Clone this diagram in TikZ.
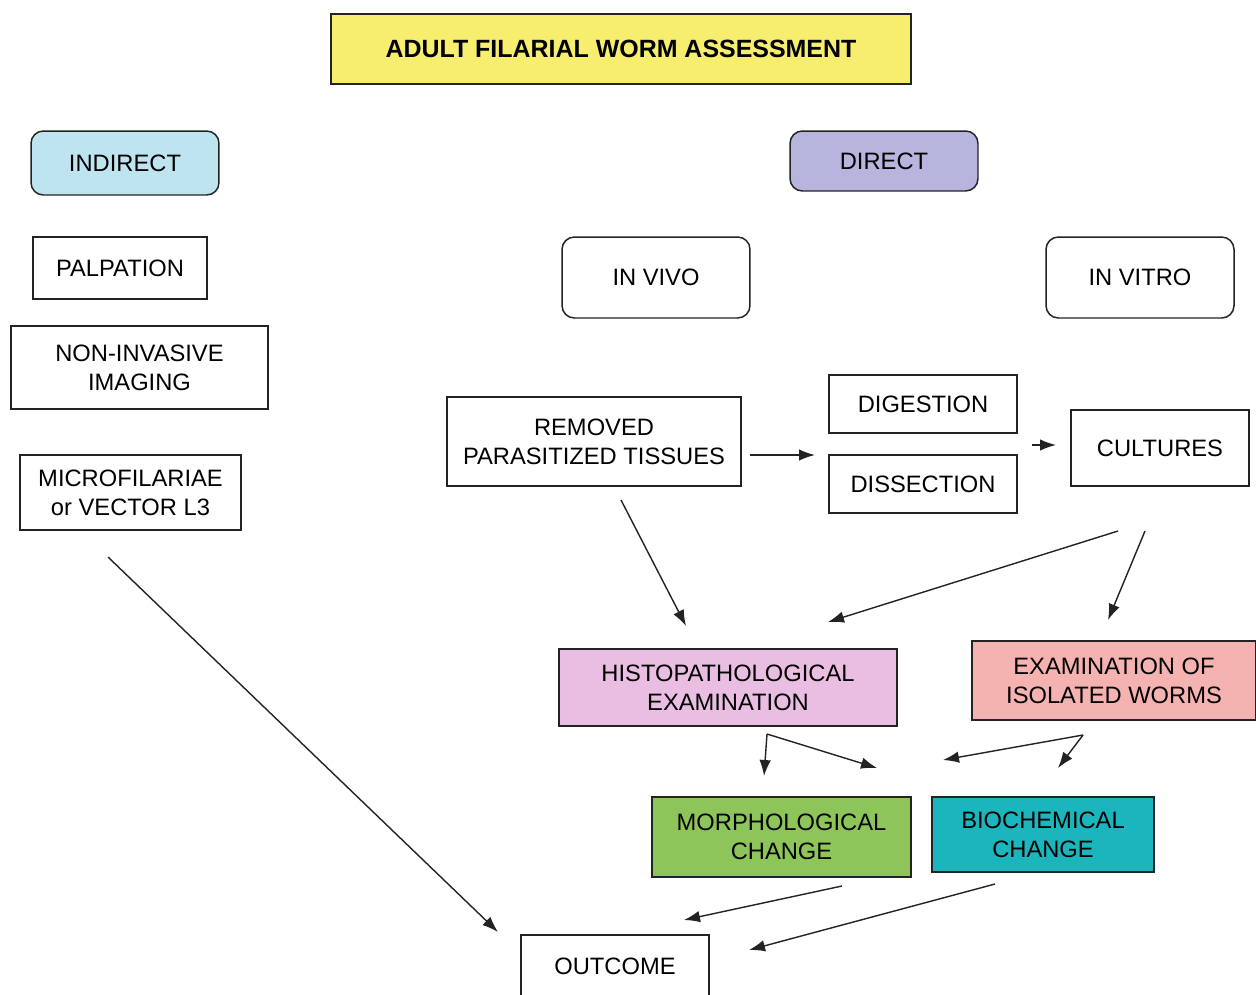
\documentclass[tikz,border=0pt]{standalone}
\usepackage{fontspec}
\setmainfont{Liberation Sans}
\usetikzlibrary{arrows.meta}

\definecolor{titleyellow}{RGB}{247,238,112}
\definecolor{indblue}{RGB}{190,228,240}
\definecolor{dirlav}{RGB}{183,180,222}
\definecolor{histopink}{RGB}{233,190,226}
\definecolor{isosalmon}{RGB}{244,179,176}
\definecolor{morphgreen}{RGB}{142,197,90}
\definecolor{biochteal}{RGB}{27,181,189}
\definecolor{edge}{RGB}{35,35,35}

\tikzset{
  box/.style={draw=edge,line width=0.85pt,inner sep=0pt,align=center,
    font=\fontsize{13.5}{16.5}\selectfont},
  roundbox/.style={box,rounded corners=7pt},
  arr/.style={draw=edge,line width=0.8pt,-{Latex[length=3.2mm,width=2.3mm]}}
}

\begin{document}
\begin{tikzpicture}[x=0.02cm,y=-0.02cm]
  \useasboundingbox (0,0) rectangle (1256,994);
  \clip (0,0) rectangle (1256,994);

  \node[box,fill=titleyellow,minimum width=11.6cm,minimum height=1.4cm,
    font=\fontsize{14.2}{16}\selectfont\bfseries] (title) at (621,49)
    {ADULT FILARIAL WORM ASSESSMENT};

  % indirect side
  \node[roundbox,fill=indblue,minimum width=3.76cm,minimum height=1.28cm]
    (indirect) at (125,163) {INDIRECT};
  \node[box,minimum width=3.48cm,minimum height=1.24cm]
    (palp) at (120,268) {PALPATION};
  \node[box,minimum width=5.14cm,minimum height=1.66cm]
    (imaging) at (139.5,367.5) {NON-INVASIVE\\IMAGING};
  \node[box,minimum width=4.42cm,minimum height=1.5cm]
    (microf) at (130.5,492.5) {MICROFILARIAE\\or VECTOR L3};

  % direct side
  \node[roundbox,fill=dirlav,minimum width=3.76cm,minimum height=1.2cm]
    (direct) at (884,161) {DIRECT};
  \node[roundbox,minimum width=3.76cm,minimum height=1.62cm]
    (invivo) at (656,277.5) {IN VIVO};
  \node[roundbox,minimum width=3.76cm,minimum height=1.62cm]
    (invitro) at (1140,277.5) {IN VITRO};
  \node[box,minimum width=5.88cm,minimum height=1.78cm]
    (removed) at (594,441.5) {REMOVED\\PARASITIZED TISSUES};
  \node[box,minimum width=3.76cm,minimum height=1.16cm]
    (digest) at (923,404) {DIGESTION};
  \node[box,minimum width=3.76cm,minimum height=1.16cm]
    (dissect) at (923,484) {DISSECTION};
  \node[box,minimum width=3.56cm,minimum height=1.52cm]
    (cultures) at (1160,448) {CULTURES};

  % examinations and changes
  \node[box,fill=histopink,minimum width=6.76cm,minimum height=1.54cm]
    (histo) at (728,687.5) {HISTOPATHOLOGICAL\\EXAMINATION};
  \node[box,fill=isosalmon,minimum width=5.68cm,minimum height=1.58cm]
    (isolated) at (1114,680.5) {EXAMINATION OF\\ISOLATED WORMS};
  \node[box,fill=morphgreen,minimum width=5.18cm,minimum height=1.6cm]
    (morph) at (781.5,837) {MORPHOLOGICAL\\CHANGE};
  \node[box,fill=biochteal,minimum width=4.44cm,minimum height=1.5cm]
    (bioch) at (1043,834.5) {BIOCHEMICAL\\CHANGE};
  \node[box,minimum width=3.76cm,minimum height=1.24cm]
    (outcome) at (615,966) {OUTCOME};

  % free arrow ends
  \coordinate (rm-out) at (750,455);
  \coordinate (dd-in) at (815,455);
  \coordinate (dd-out) at (1032,445);
  \coordinate (cu-in) at (1056,445);
  \coordinate (rm-down) at (621,500);
  \coordinate (hi-in1) at (686,626);
  \coordinate (cu-out1) at (1118,531);
  \coordinate (hi-in2) at (828,622);
  \coordinate (cu-out2) at (1145,531);
  \coordinate (is-in) at (1108,620);
  \coordinate (hi-fork) at (767,734);
  \coordinate (mo-in) at (764,776);
  \coordinate (hi-right) at (877,768);
  \coordinate (is-fork) at (1083,735);
  \coordinate (is-left) at (943,760);
  \coordinate (bi-in) at (1058,768);
  \coordinate (mo-out) at (842,886);
  \coordinate (ou-in1) at (684,920);
  \coordinate (bi-out) at (995,884);
  \coordinate (ou-in2) at (749,950);
  \coordinate (mf-out) at (108,557);
  \coordinate (ou-in3) at (498,932);

  \draw[arr] (rm-out) -- (dd-in);
  \draw[arr] (dd-out) -- (cu-in);
  \draw[arr] (rm-down) -- (hi-in1);
  \draw[arr] (cu-out1) -- (hi-in2);
  \draw[arr] (cu-out2) -- (is-in);
  \draw[arr] (hi-fork) -- (mo-in);
  \draw[arr] (hi-fork) -- (hi-right);
  \draw[arr] (is-fork) -- (is-left);
  \draw[arr] (is-fork) -- (bi-in);
  \draw[arr] (mo-out) -- (ou-in1);
  \draw[arr] (bi-out) -- (ou-in2);
  \draw[arr] (mf-out) -- (ou-in3);
\end{tikzpicture}
\end{document}
